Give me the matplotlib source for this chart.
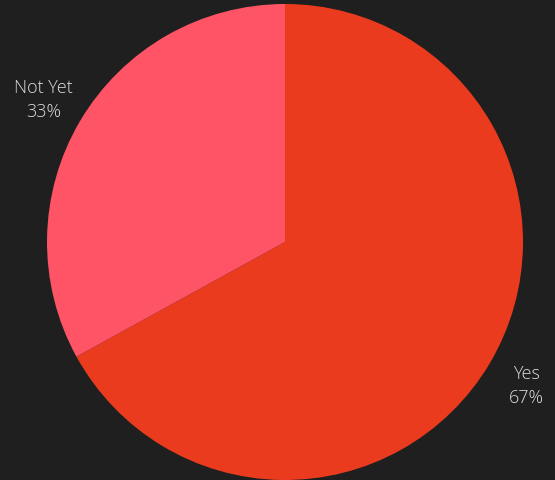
import matplotlib
matplotlib.use("Agg")
import matplotlib.pyplot as plt

categories = ["Yes", "Not Yet"]
values = [67, 33]
colors = ["#EB3B1E", "#FF5366"]

bg = "#1F1F1F"
fig = plt.figure(figsize=(5.55, 4.81), dpi=100, facecolor=bg)
ax = fig.add_axes([47/555, 0, 476/555, 476/481])
ax.set_facecolor(bg)

total = sum(values)
labels = [f"{c}\n{round(v/total*100)}%" for c, v in zip(categories, values)]
wedges, texts = ax.pie(values, colors=colors, startangle=90, counterclock=False,
                       labels=labels, labeldistance=1.18,
                       wedgeprops=dict(linewidth=0),
                       textprops=dict(color="#DDDDDD", fontsize=13, family="Open Sans",
                                      weight="light",
                                      ha="center", va="center", linespacing=1.45))
for t in texts:
    t.set_horizontalalignment("center")
ax.set_xlim(-1, 1)
ax.set_ylim(-1, 1)
ax.set_aspect("equal")
ax.axis("off")
fig.savefig("out.png", dpi=100, facecolor=bg)
